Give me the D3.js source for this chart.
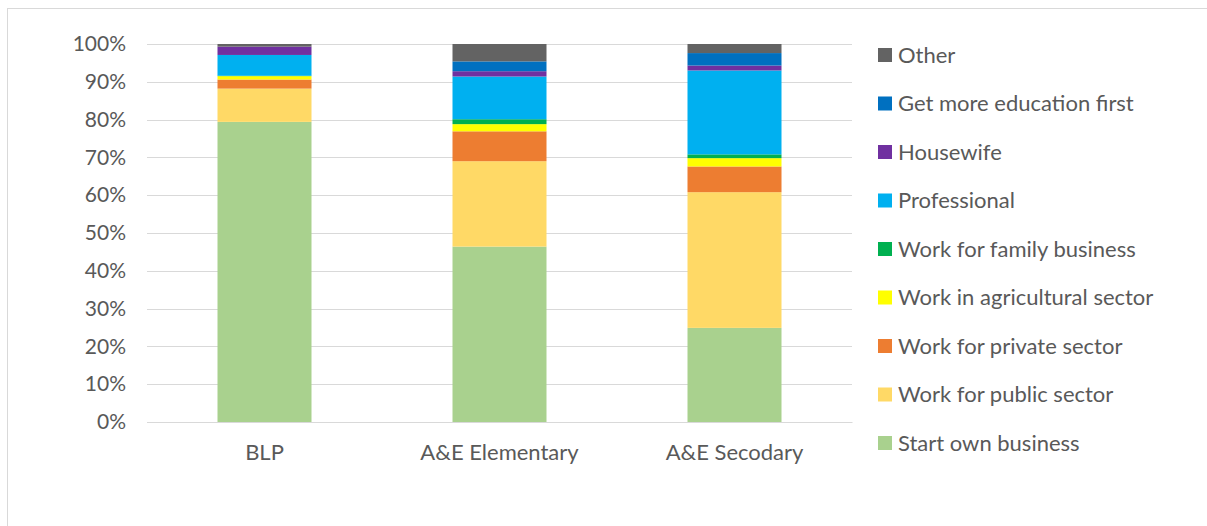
<!DOCTYPE html>
<html>
<head>
<meta charset="utf-8">
<script src="https://cdn.jsdelivr.net/npm/d3@7"></script>
<style>
  html, body { margin: 0; padding: 0; background: #fff; }
  svg { display: block; font-family: Lato, "Open Sans", sans-serif; }
</style>
</head>
<body>
<svg id="chart" width="1207" height="526"></svg>
<script>
const categories = ["BLP", "A&E Elementary", "A&E Secodary"];
const seriesNames = [
  "Start own business",
  "Work for public sector",
  "Work for private sector",
  "Work in agricultural sector",
  "Work for family business",
  "Professional",
  "Housewife",
  "Get more education first",
  "Other"
];
const startOwnBusiness   = [79.4, 46.4, 24.9];
const workPublicSector   = [8.8, 22.6, 35.9];
const workPrivateSector  = [2.4, 7.9, 6.8];
const workAgricultural   = [0.9, 1.9, 2.2];
const workFamilyBusiness = [0.1, 1.3, 1.0];
const professional       = [5.5, 11.3, 22.2];
const housewife          = [2.2, 1.4, 1.3];
const moreEducation      = [0.0, 2.6, 3.3];
const other              = [0.7, 4.6, 2.4];
const seriesColors = ["#A9D18E", "#FFD966", "#ED7D31", "#FFFF00", "#00B050", "#00B0F0", "#7030A0", "#0070C0", "#636363"];
const yTicks = [0, 10, 20, 30, 40, 50, 60, 70, 80, 90, 100];

const seriesValues = [startOwnBusiness, workPublicSector, workPrivateSector, workAgricultural,
  workFamilyBusiness, professional, housewife, moreEducation, other];

const rows = categories.map((c, i) => {
  const r = { cat: c };
  seriesNames.forEach((s, k) => r[s] = seriesValues[k][i]);
  return r;
});

const svg = d3.select("#chart");
const plotLeft = 147, plotRight = 852, plotTop = 44, plotBottom = 422;
const fontFam = "Lato, 'Open Sans', sans-serif";

// chart border
svg.append("rect").attr("x", 7.5).attr("y", 8.5).attr("width", 1210).attr("height", 530)
  .attr("fill", "none").attr("stroke", "#D9D9D9").attr("stroke-width", 1);

const x = d3.scaleBand().domain(categories).range([plotLeft, plotRight]).paddingInner(0.6).paddingOuter(0.3);
const y = d3.scaleLinear().domain([0, 100]).range([plotBottom, plotTop]);

// gridlines
svg.append("g").selectAll("line").data(yTicks).join("line")
  .attr("x1", plotLeft).attr("x2", plotRight)
  .attr("y1", d => Math.round(y(d)) + 0.5).attr("y2", d => Math.round(y(d)) + 0.5)
  .attr("stroke", "#D9D9D9").attr("stroke-width", 1);

// y axis labels
const yAxis = d3.axisLeft(y).tickValues(yTicks).tickFormat(d => d + "%").tickSize(0).tickPadding(0);
const yg = svg.append("g").attr("transform", `translate(${plotLeft - 21},0)`).call(yAxis);
yg.select(".domain").remove();
yg.selectAll("text").attr("fill", "#595959").style("font-size", "21px").style("font-family", fontFam);

// stacks
const stack = d3.stack().keys(seriesNames);
const stacked = stack(rows);
const bw = 94;
svg.append("g").selectAll("g").data(stacked).join("g")
  .attr("fill", (d, i) => seriesColors[i])
  .selectAll("rect").data(d => d).join("rect")
  .attr("x", d => x(d.data.cat) + x.bandwidth() / 2 - bw / 2)
  .attr("width", bw)
  .attr("y", d => y(d[1]))
  .attr("height", d => Math.max(0, y(d[0]) - y(d[1])));

// x axis
const xAxis = d3.axisBottom(x).tickSize(0).tickPadding(22);
const xg = svg.append("g").attr("transform", `translate(0,${plotBottom})`).call(xAxis);
xg.select(".domain").attr("stroke", "#D9D9D9");
xg.selectAll("text").attr("fill", "#595959").style("font-size", "22px").style("font-family", fontFam);

// legend (reverse order)
const legendItems = seriesNames.map((s, i) => ({ name: s, color: seriesColors[i] })).reverse();
const lg = svg.append("g");
const ly = d3.scalePoint().domain(legendItems.map(d => d.name)).range([55, 443]);
const item = lg.selectAll("g").data(legendItems).join("g")
  .attr("transform", d => `translate(878,${ly(d.name)})`);
item.append("rect").attr("x", 0).attr("y", -7).attr("width", 14).attr("height", 14).attr("fill", d => d.color);
item.append("text").attr("x", 20).attr("y", 0).attr("dy", "0.35em")
  .attr("fill", "#595959").style("font-size", "22px").text(d => d.name);
</script>
</body>
</html>
